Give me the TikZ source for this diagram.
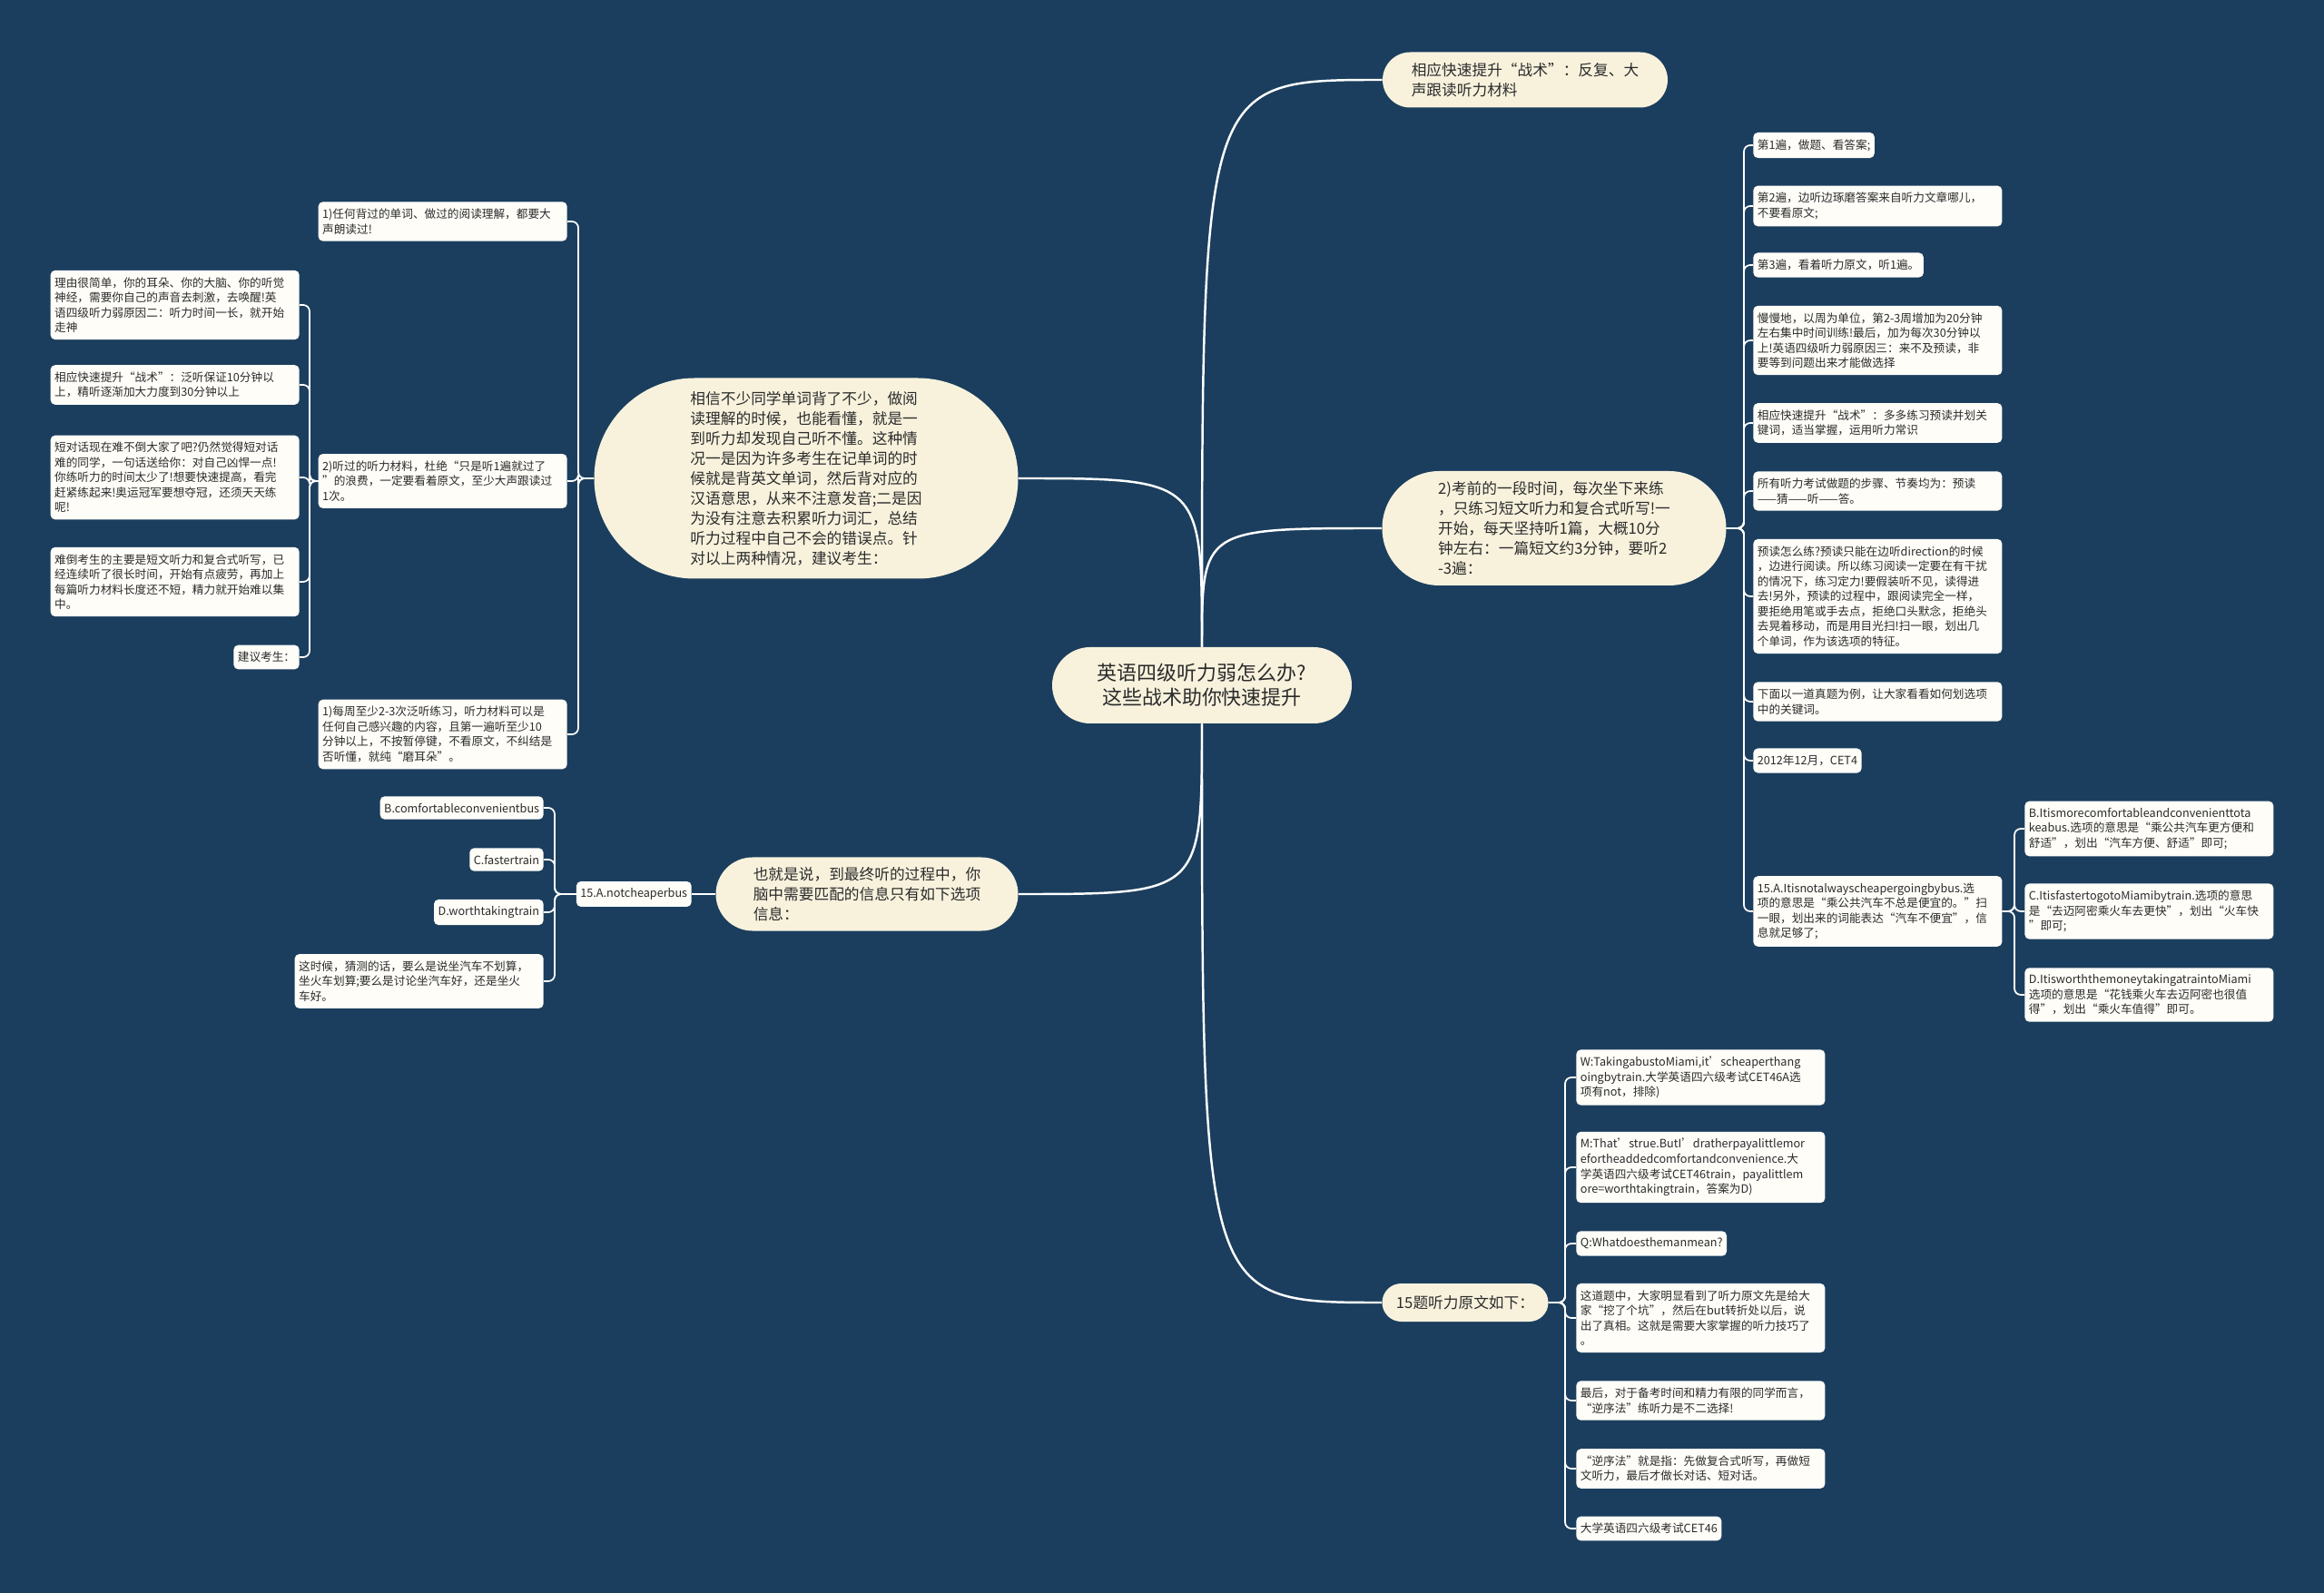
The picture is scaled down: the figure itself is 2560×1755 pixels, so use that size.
\documentclass[tikz,border=0pt]{standalone}
\usepackage{fontspec}
\setmainfont{Noto Sans CJK SC}
\usetikzlibrary{shapes.misc}
\definecolor{bgblue}{HTML}{1B3E5E}
\definecolor{cream}{HTML}{F8F2DD}
\definecolor{paper}{HTML}{FEFDF8}
\definecolor{ink}{HTML}{2B2B2B}
\begin{document}
\begin{tikzpicture}[x=0.2mm,y=-0.2mm,
  topic/.style={shape=rounded rectangle, fill=cream, text=ink, align=left, inner xsep=1mm, font=\fontsize{9.5}{12.5}\selectfont},
  leaf/.style={rectangle, rounded corners=1mm, fill=paper, text=ink, align=left, inner xsep=0.9mm, inner ysep=1.5mm, font=\fontsize{7.2}{9.4}\selectfont},
  wide/.style={leaf, text width=53mm},
  trunk/.style={draw=white, line width=1.4pt},
  branch/.style={draw=white, line width=1pt, rounded corners=1.4mm}]
\fill[bgblue] (0,0) rectangle (2560,1755);
\useasboundingbox (0,0) rectangle (2560,1755);

% centre and main topics
\node[topic, align=center, minimum width=68mm, minimum height=16.8mm, font=\fontsize{12.5}{15.5}\selectfont] (root) at (1324,755) {英语四级听力弱怎么办?\\这些战术助你快速提升};
\node[topic, minimum width=95.4mm, minimum height=44.2mm] (why) at (888,527) {相信不少同学单词背了不少，做阅\\读理解的时候，也能看懂，就是一\\到听力却发现自己听不懂。这种情\\况一是因为许多考生在记单词的时\\候就是背英文单词，然后背对应的\\汉语意思，从来不注意发音;二是因\\为没有注意去积累听力词汇，总结\\听力过程中自己不会的错误点。针\\对以上两种情况，建议考生：};
\node[topic, minimum width=68.6mm, minimum height=16.2mm] (opt) at (955,985) {也就是说，到最终听的过程中，你\\脑中需要匹配的信息只有如下选项\\信息：};
\node[topic, minimum width=64.8mm, minimum height=12.2mm] (tac) at (1680,88) {相应快速提升“战术”：反复、大\\声跟读听力材料};
\node[topic, minimum width=77.8mm, minimum height=25.2mm] (pre) at (1712,582) {2)考前的一段时间，每次坐下来练\\，只练习短文听力和复合式听写!一\\开始，每天坚持听1篇，大概10分\\钟左右：一篇短文约3分钟，要听2\\-3遍：};
\node[topic, minimum width=38.6mm, minimum height=8.4mm] (src) at (1614,1435) {15题听力原文如下：};

\draw[trunk] (root.north) .. controls (root.north |- tac.west) .. (tac.west);
\draw[trunk] (root.north) .. controls (root.north |- pre.west) .. (pre.west);
\draw[trunk] (root.north) .. controls (root.north |- why.east) .. (why.east);
\draw[trunk] (root.south) .. controls (root.south |- opt.east) .. (opt.east);
\draw[trunk] (root.south) .. controls (root.south |- src.west) .. (src.west);

% left: advice
\node[wide, anchor=east] (why1) at (625,244) {1)任何背过的单词、做过的阅读理解，都要大\\声朗读过!};
\node[wide, anchor=east] (why2) at (625,530) {2)听过的听力材料，杜绝“只是听1遍就过了\\”的浪费，一定要看着原文，至少大声跟读过\\1次。};
\node[wide, anchor=east] (why3) at (625,809) {1)每周至少2-3次泛听练习，听力材料可以是\\任何自己感兴趣的内容，且第一遍听至少10\\分钟以上，不按暂停键，不看原文，不纠结是\\否听懂，就纯“磨耳朵”。};
\coordinate (whyb) at (637,527);
\foreach \i in {1,2,3}
  \draw[branch] (why.west) -- (whyb) |- (why\i.east);

\node[wide, anchor=east] (r1) at (330,336) {理由很简单，你的耳朵、你的大脑、你的听觉\\神经，需要你自己的声音去刺激，去唤醒!英\\语四级听力弱原因二：听力时间一长，就开始\\走神};
\node[wide, anchor=east] (r2) at (330,424) {相应快速提升“战术”：泛听保证10分钟以\\上，精听逐渐加大力度到30分钟以上};
\node[wide, anchor=east] (r3) at (330,526) {短对话现在难不倒大家了吧?仍然觉得短对话\\难的同学，一句话送给你：对自己凶悍一点!\\你练听力的时间太少了!想要快速提高，看完\\赶紧练起来!奥运冠军要想夺冠，还须天天练\\呢!};
\node[wide, anchor=east] (r4) at (330,641) {难倒考生的主要是短文听力和复合式听写，已\\经连续听了很长时间，开始有点疲劳，再加上\\每篇听力材料长度还不短，精力就开始难以集\\中。};
\node[leaf, anchor=east] (r5) at (330,724) {建议考生：};
\coordinate (rb) at (341,530);
\foreach \i in {1,...,5}
  \draw[branch] (why2.west) -- (rb) |- (r\i.east);

% left: options
\node[leaf, anchor=east] (opt0) at (762,985) {15.A.notcheaperbus};
\draw[branch] (opt.west) -- (opt0.east);
\node[leaf, anchor=east] (o1) at (599,890) {B.comfortableconvenientbus};
\node[leaf, anchor=east] (o2) at (599,947) {C.fastertrain};
\node[leaf, anchor=east] (o3) at (599,1005) {D.worthtakingtrain};
\node[wide, anchor=east] (o4) at (599,1081) {这时候，猜测的话，要么是说坐汽车不划算，\\坐火车划算;要么是讨论坐汽车好，还是坐火\\车好。};
\coordinate (ob) at (611,985);
\foreach \i in {1,...,4}
  \draw[branch] (opt0.west) -- (ob) |- (o\i.east);

% right: practice
\node[leaf, anchor=west] (pre1) at (1931,160) {第1遍，做题、看答案;};
\node[wide, anchor=west] (pre2) at (1931,227) {第2遍，边听边琢磨答案来自听力文章哪儿，\\不要看原文;};
\node[leaf, anchor=west] (pre3) at (1931,292) {第3遍，看着听力原文，听1遍。};
\node[wide, anchor=west] (pre4) at (1931,375) {慢慢地，以周为单位，第2-3周增加为20分钟\\左右集中时间训练!最后，加为每次30分钟以\\上!英语四级听力弱原因三：来不及预读，非\\要等到问题出来才能做选择};
\node[wide, anchor=west] (pre5) at (1931,466) {相应快速提升“战术”：多多练习预读并划关\\键词，适当掌握，运用听力常识};
\node[wide, anchor=west] (pre6) at (1931,541) {所有听力考试做题的步骤、节奏均为：预读\\——猜——听——答。};
\node[wide, anchor=west] (pre7) at (1931,657) {预读怎么练?预读只能在边听direction的时候\\，边进行阅读。所以练习阅读一定要在有干扰\\的情况下，练习定力!要假装听不见，读得进\\去!另外，预读的过程中，跟阅读完全一样，\\要拒绝用笔或手去点，拒绝口头默念，拒绝头\\去晃着移动，而是用目光扫!扫一眼，划出几\\个单词，作为该选项的特征。};
\node[wide, anchor=west] (pre8) at (1931,773) {下面以一道真题为例，让大家看看如何划选项\\中的关键词。};
\node[leaf, anchor=west] (pre9) at (1931,838) {2012年12月，CET4};
\node[wide, anchor=west] (pre10) at (1931,1004) {15.A.Itisnotalwayscheapergoingbybus.选\\项的意思是“乘公共汽车不总是便宜的。”扫\\一眼，划出来的词能表达“汽车不便宜”，信\\息就足够了;};
\coordinate (preb) at (1921,582);
\foreach \i in {1,...,10}
  \draw[branch] (pre.east) -- (preb) |- (pre\i.west);

\node[wide, anchor=west] (q1) at (2230,913) {B.Itismorecomfortableandconvenienttota\\keabus.选项的意思是“乘公共汽车更方便和\\舒适”，划出“汽车方便、舒适”即可;};
\node[wide, anchor=west] (q2) at (2230,1004) {C.ItisfastertogotoMiamibytrain.选项的意思\\是“去迈阿密乘火车去更快”，划出“火车快\\”即可;};
\node[wide, anchor=west] (q3) at (2230,1096) {D.ItisworththemoneytakingatraintoMiami\\选项的意思是“花钱乘火车去迈阿密也很值\\得”，划出“乘火车值得”即可。};
\coordinate (qb) at (2219,1004);
\foreach \i in {1,2,3}
  \draw[branch] (pre10.east) -- (qb) |- (q\i.west);

% bottom right: listening text
\node[wide, anchor=west] (src1) at (1736,1187) {W:TakingabustoMiami,it’scheaperthang\\oingbytrain.大学英语四六级考试CET46A选\\项有not，排除)};
\node[wide, anchor=west] (src2) at (1736,1286) {M:That’strue.ButI’dratherpayalittlemor\\efortheaddedcomfortandconvenience.大\\学英语四六级考试CET46train，payalittlem\\ore=worthtakingtrain，答案为D)};
\node[leaf, anchor=west] (src3) at (1736,1370) {Q:Whatdoesthemanmean?};
\node[wide, anchor=west] (src4) at (1736,1452) {这道题中，大家明显看到了听力原文先是给大\\家“挖了个坑”，然后在but转折处以后，说\\出了真相。这就是需要大家掌握的听力技巧了\\。};
\node[wide, anchor=west] (src5) at (1736,1543) {最后，对于备考时间和精力有限的同学而言，\\“逆序法”练听力是不二选择!};
\node[wide, anchor=west] (src6) at (1736,1618) {“逆序法”就是指：先做复合式听写，再做短\\文听力，最后才做长对话、短对话。};
\node[leaf, anchor=west] (src7) at (1736,1684) {大学英语四六级考试CET46};
\coordinate (srcb) at (1724,1435);
\foreach \i in {1,...,7}
  \draw[branch] (src.east) -- (srcb) |- (src\i.west);
\end{tikzpicture}
\end{document}
